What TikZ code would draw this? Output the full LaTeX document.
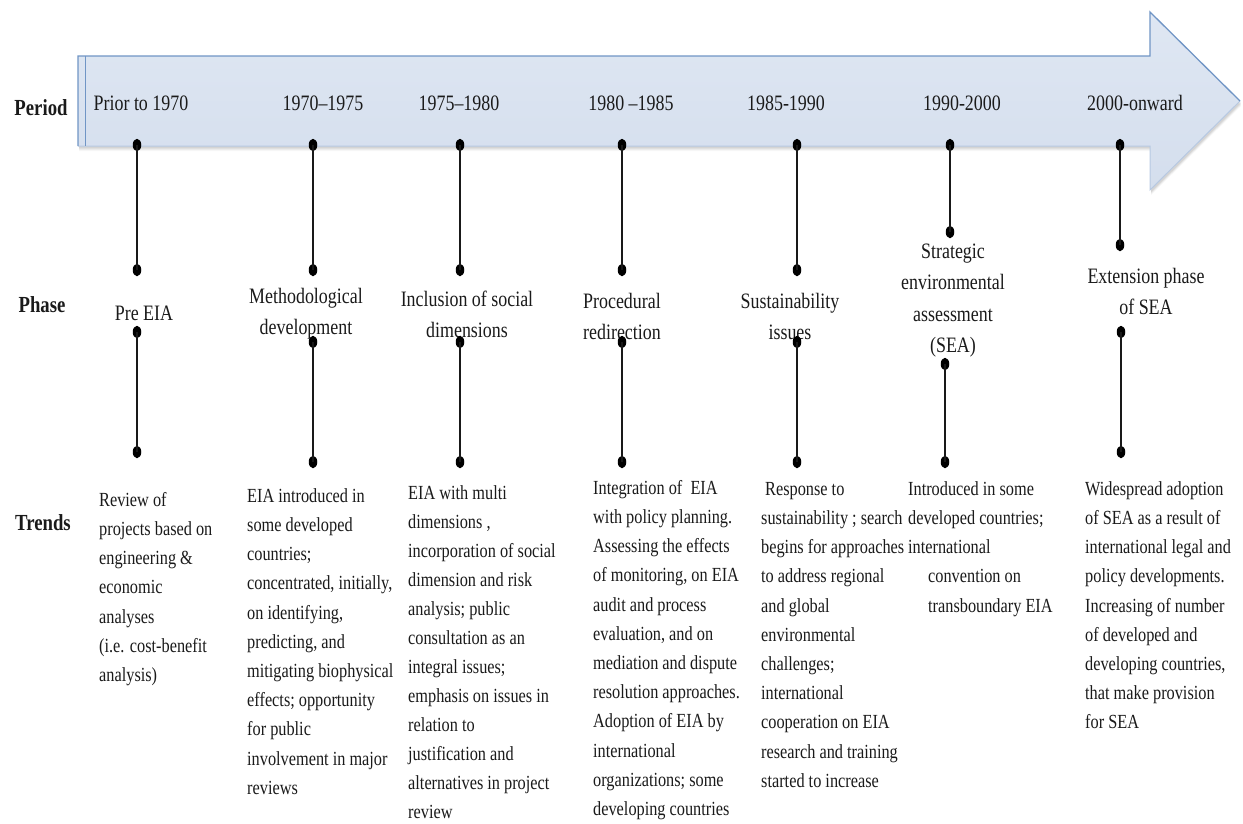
\documentclass[tikz,border=0pt]{standalone}
\usepackage{fontspec}
\setmainfont{Liberation Serif}[FakeStretch=0.815]
\usetikzlibrary{shapes.geometric}
\definecolor{bandtop}{HTML}{DFE7F3}
\definecolor{bandbot}{HTML}{D4DEED}
\definecolor{bandedge}{HTML}{7095C5}
\definecolor{bandsoft}{HTML}{B7C9E2}
\definecolor{ink}{HTML}{1A1A1A}

\begin{document}
\begin{tikzpicture}[x=1pt,y=-1pt,
  dot/.style={ellipse, fill=black, draw=none, inner sep=0pt, minimum width=8.5pt, minimum height=12.5pt},
  stem/.style={line width=2.2pt, draw=black!90},
  rowlabel/.style={anchor=base, inner sep=0pt, text=ink, font=\bfseries\fontsize{23}{27}\selectfont},
  period/.style={anchor=base, inner sep=0pt, text=ink, font=\fontsize{22}{26}\selectfont},
  phase/.style={anchor=north, inner sep=0pt, align=center, text=ink, font=\fontsize{22}{31.5}\selectfont},
  trend/.style={anchor=north west, inner sep=0pt, align=left, text=ink, font=\fontsize{20}{29.2}\selectfont}]
\useasboundingbox (0,0) rectangle (1243,823);

% timeline band: soft shadow, shaded body, edges
\foreach \d/\o in {5/0.03,4/0.04,3/0.05,2/0.06}
  \fill[black, opacity=\o, shift={(1,\d)}] (78,56) -- (1150,56) -- (1150,12) -- (1240,101) -- (1150,190) -- (1150,146) -- (78,146) -- cycle;
\shade[top color=bandtop, bottom color=bandbot] (78,56) -- (1150,56) -- (1150,12) -- (1240,101) -- (1150,190) -- (1150,146) -- (78,146) -- cycle;
\draw[bandsoft, line width=1pt] (1240,101) -- (1150,190) -- (1150,146) -- (78,146);
\draw[bandedge, line width=1.3pt] (78,146) -- (78,56) -- (1150,56) -- (1150,12) -- (1240,101);
\draw[bandedge, line width=1.3pt] (85.5,56) -- (85.5,146);

% row headings
\node[rowlabel] (hperiod) at (41,115) {Period};
\node[rowlabel] (hphase)  at (42,312) {Phase};
\node[rowlabel] (htrends) at (43,530) {Trends};

% periods
\node[period] (t1) at (141,110) {Prior to 1970};
\node[period] (t2) at (323,110) {1970–1975};
\node[period] (t3) at (459,110) {1975–1980};
\node[period] (t4) at (631,110) {1980 –1985};
\node[period] (t5) at (786,110) {1985-1990};
\node[period] (t6) at (962,110) {1990-2000};
\node[period] (t7) at (1135,110) {2000-onward};

% phases
\node[phase] (p1) at (144,298) {\strut Pre EIA};
\node[phase] (p2) at (306,281) {\strut Methodological\\development};
\node[phase] (p3) at (467,284) {\strut Inclusion of social\\dimensions};
\node[phase] (p4) at (622,286) {\strut Procedural\\redirection};
\node[phase] (p5) at (790,286) {\strut Sustainability\\issues};
\node[phase] (p6) at (953,236) {\strut Strategic\\environmental\\assessment\\(SEA)};
\node[phase] (p7) at (1146,261) {\strut Extension phase\\of SEA};

% trends
\node[trend] (r1) at (99,485.6) {\strut Review of\\projects based on\\engineering \&\\economic\\analyses\\(i.e. cost-benefit\\analysis)};
\node[trend] (r2) at (247,481.6) {\strut EIA introduced in\\some developed\\countries;\\concentrated, initially,\\on identifying,\\predicting, and\\mitigating biophysical\\effects; opportunity\\for public\\involvement in major\\reviews};
\node[trend, font=\fontsize{20}{29}\selectfont] (r3) at (408,479) {\strut EIA with multi\\dimensions ,\\incorporation of social\\dimension and risk\\analysis; public\\consultation as an\\integral issues;\\emphasis on issues in\\relation to\\justification and\\alternatives in project\\review};
\node[trend] (r4) at (593,473.6) {\strut Integration of~ EIA\\with policy planning.\\Assessing the effects\\of monitoring, on EIA\\audit and process\\evaluation, and on\\mediation and dispute\\resolution approaches.\\Adoption of EIA by\\international\\organizations; some\\developing countries};
\node[trend] (r5) at (761,474.6) {\strut\hspace*{4pt}Response to\\sustainability ; search\\begins for approaches\\to address regional\\and global\\environmental\\challenges;\\international\\cooperation on EIA\\research and training\\started to increase};
\node[trend] (r6) at (908,474.6) {\strut Introduced in some\\developed countries;\\international\\\hspace*{20pt}convention on\\\hspace*{20pt}transboundary EIA};
\node[trend] (r7) at (1085,474.6) {\strut Widespread adoption\\of SEA as a result of\\international legal and\\policy developments.\\Increasing of number\\of developed and\\developing countries,\\that make provision\\for SEA};

% stems joining period, phase and trend rows
\foreach \i/\xa/\ya/\yb/\xc/\yc/\yd in {1/137/145/270/137/332/452, 2/313/145/270/313/342/462,
    3/460/145/270/460/342/462, 4/622/145/270/622/342/462, 5/797/145/270/797/342/462,
    6/950/145/232/945/364/462, 7/1120/145/245/1121/332/452} {
  \node[dot] (a\i) at (\xa,\ya) {};
  \node[dot] (b\i) at (\xa,\yb) {};
  \node[dot] (c\i) at (\xc,\yc) {};
  \node[dot] (d\i) at (\xc,\yd) {};
  \draw[stem] (a\i.center) -- (b\i.center);
  \draw[stem] (c\i.center) -- (d\i.center);
}
\end{tikzpicture}
\end{document}
